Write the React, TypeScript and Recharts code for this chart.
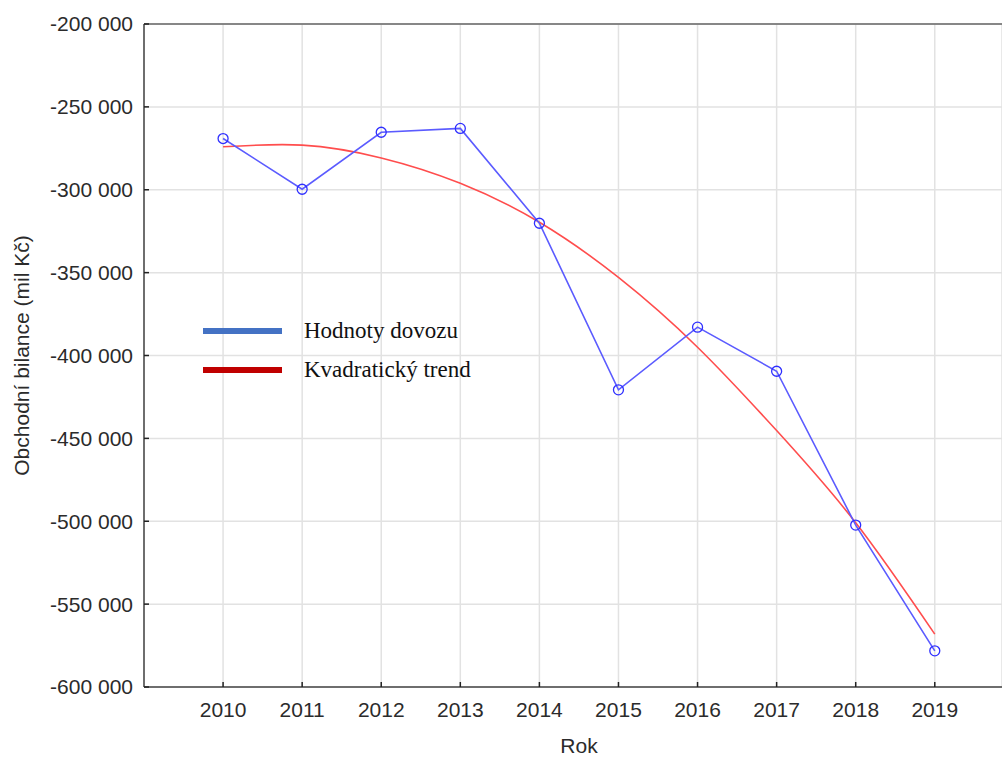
import React from 'react'
import { LineChart, Line, XAxis, YAxis, CartesianGrid } from 'recharts'

const years = [2010, 2011, 2012, 2013, 2014, 2015, 2016, 2017, 2018, 2019]
const importValues = [-269100, -299700, -265300, -263000, -320200, -420700, -382900, -409500, -502300, -578200]
const trendValues = [-274100, -273100, -280800, -296100, -319600, -352900, -395000, -445300, -500900, -568100]
const yTicks = [-600000, -550000, -500000, -450000, -400000, -350000, -300000, -250000, -200000]
const legendItems = [
    { label: 'Hodnoty dovozu', color: '#4472C4' },
    { label: 'Kvadratický trend', color: '#C00000' },
]

const data = years.map((year, i) => ({ year, dovoz: importValues[i], trend: trendValues[i] }))

const fmt = (n: number) =>
    (n < 0 ? '-' : '') + Math.abs(n).toString().replace(/\B(?=(\d{3})+(?!\d))/g, ' ')

const tickStyle = { fill: '#2b2b2b', fontSize: 21, fontFamily: 'Liberation Sans, Arial, sans-serif' }

export default function App() {
    return (
        <div style={{ position: 'absolute', left: 0, top: 0, width: 1002, height: 757, background: '#fff' }}>
            <LineChart width={1002} height={757} data={data} margin={{ top: 0, right: 0, left: 0, bottom: 0 }}>
                <CartesianGrid stroke="#e2e2e2" strokeWidth={1.5} />
                <XAxis
                    xAxisId="top"
                    orientation="top"
                    dataKey="year"
                    type="number"
                    domain={[2009, 2019.85]}
                    ticks={years}
                    allowDataOverflow
                    height={24}
                    tick={false}
                    tickSize={-5}
                    stroke="#666"
                    strokeWidth={1.5}
                    tickLine={{ stroke: '#222' }}
                />
                <XAxis
                    dataKey="year"
                    type="number"
                    domain={[2009, 2019.85]}
                    ticks={years}
                    allowDataOverflow
                    height={70}
                    tick={tickStyle}
                    tickSize={-5}
                    tickMargin={20}
                    stroke="#444"
                    strokeWidth={1.5}
                    tickLine={{ stroke: '#222' }}
                    label={{ value: 'Rok', position: 'insideBottom', offset: 4, dx: 6, style: tickStyle }}
                />
                <YAxis
                    domain={[-600000, -200000]}
                    ticks={yTicks}
                    tickFormatter={fmt}
                    width={144}
                    tick={tickStyle}
                    tickSize={-5}
                    tickMargin={16}
                    stroke="#444"
                    strokeWidth={1.5}
                    tickLine={{ stroke: '#222' }}
                    label={{
                        value: 'Obchodní bilance (mil Kč)',
                        angle: -90,
                        position: 'center',
                        dx: -50,
                        style: { ...tickStyle, fontSize: 21 },
                    }}
                />
                <Line
                    type="natural"
                    dataKey="trend"
                    stroke="#ff4d4d"
                    strokeWidth={1.6}
                    dot={false}
                    isAnimationActive={false}
                />
                <Line
                    type="linear"
                    dataKey="dovoz"
                    stroke="#5b5bff"
                    strokeWidth={1.6}
                    dot={{ r: 5, stroke: '#2f2fff', strokeWidth: 1.3, fill: 'none' }}
                    isAnimationActive={false}
                />
            </LineChart>
            <div
                style={{
                    position: 'absolute',
                    left: 203,
                    top: 311,
                    fontFamily: '"Liberation Serif", "Times New Roman", serif',
                    fontSize: 23,
                    color: '#111',
                }}
            >
                {legendItems.map((item) => (
                    <div key={item.label} style={{ display: 'flex', alignItems: 'center', height: 39 }}>
                        <span style={{ display: 'inline-block', width: 79, height: 6, background: item.color, marginRight: 22 }} />
                        <span>{item.label}</span>
                    </div>
                ))}
            </div>
        </div>
    )
}
